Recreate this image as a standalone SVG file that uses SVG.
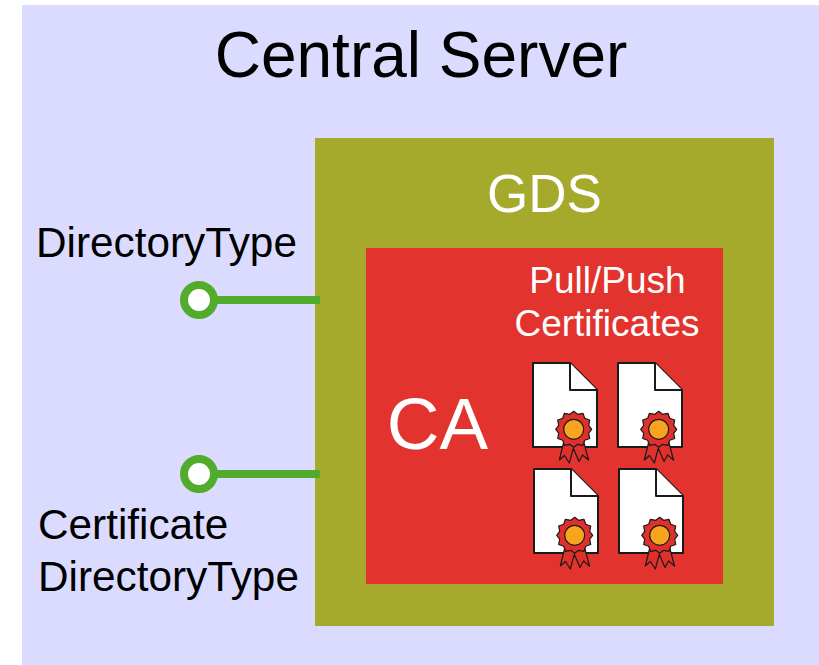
<svg xmlns="http://www.w3.org/2000/svg" width="819" height="665" viewBox="0 0 819 665">
<style>
text{font-family:"Liberation Sans",Arial,sans-serif}
.k{fill:#000}.w{fill:#fff}
.port{fill:#fff;stroke:#52ac2b;stroke-width:8}
.wire{stroke:#52ac2b;stroke-width:8;fill:none}
.doc{fill:#fff;stroke:#1a1a1a;stroke-width:2;stroke-linejoin:round}
.seal{fill:#e0302c;stroke:#1a1a1a;stroke-width:1.200;stroke-linejoin:round}
</style>
<defs>
<g id="cert">
<path class="doc" d="M0 0H37L64 27V84H0Z"/>
<path class="doc" d="M37 0V27H64"/>
<path class="seal" d="M31 78L26.300 97L31.500 92.500L36.300 100L40.300 85.300L46 98.500L49.500 92L55.500 97L50.500 78Z"/>
<polygon class="seal" transform="translate(40.700,66.300)" points="18,0 15,3.900 16,9.250 11,11 9.250,16 3.900,15 0,18 -3.900,15 -9.250,16 -11,11 -16,9.250 -15,3.900 -18,0 -15,-3.900 -16,-9.250 -11,-11 -9.250,-16 -3.900,-15 0,-18 3.900,-15 9.250,-16 11,-11 16,-9.250 15,-3.900"/>
<circle cx="40.700" cy="66.300" r="10" fill="#f8a41e" stroke="#1a1a1a" stroke-width="1.200"/>
</g>
</defs>
<g id="central-server">
<rect x="22" y="5" width="797" height="660" fill="#dbdbff"/>
<text class="k" x="421" y="77" font-size="64" text-anchor="middle">Central Server</text>
</g>
<g id="gds">
<rect x="315" y="138" width="459" height="488" fill="#a6aa2c"/>
<text class="w" x="544.500" y="212" font-size="53" text-anchor="middle">GDS</text>
</g>
<g id="ca">
<rect x="366" y="248" width="357" height="336" fill="#e2332e"/>
<text class="w" x="437.500" y="449" font-size="73" text-anchor="middle">CA</text>
<text class="w" x="607.500" y="293" font-size="37" text-anchor="middle">Pull/Push</text>
<text class="w" x="607" y="336" font-size="37" text-anchor="middle">Certificates</text>
</g>
<g id="certificates">
<use href="#cert" x="533" y="363"/>
<use href="#cert" x="618" y="363"/>
<use href="#cert" x="534" y="469"/>
<use href="#cert" x="619" y="469"/>
</g>
<g id="connectors">
<line class="wire" x1="214" y1="300" x2="320" y2="300"/>
<line class="wire" x1="214" y1="474" x2="320" y2="474"/>
</g>
<g id="directory-type">
<circle class="port" cx="199" cy="300" r="15"/>
<text class="k" x="36" y="257" font-size="42.300">DirectoryType</text>
</g>
<g id="certificate-directory-type">
<circle class="port" cx="199" cy="474" r="15"/>
<text class="k" x="38" y="539" font-size="42.300">Certificate</text>
<text class="k" x="38" y="591" font-size="42.300">DirectoryType</text>
</g>
</svg>
